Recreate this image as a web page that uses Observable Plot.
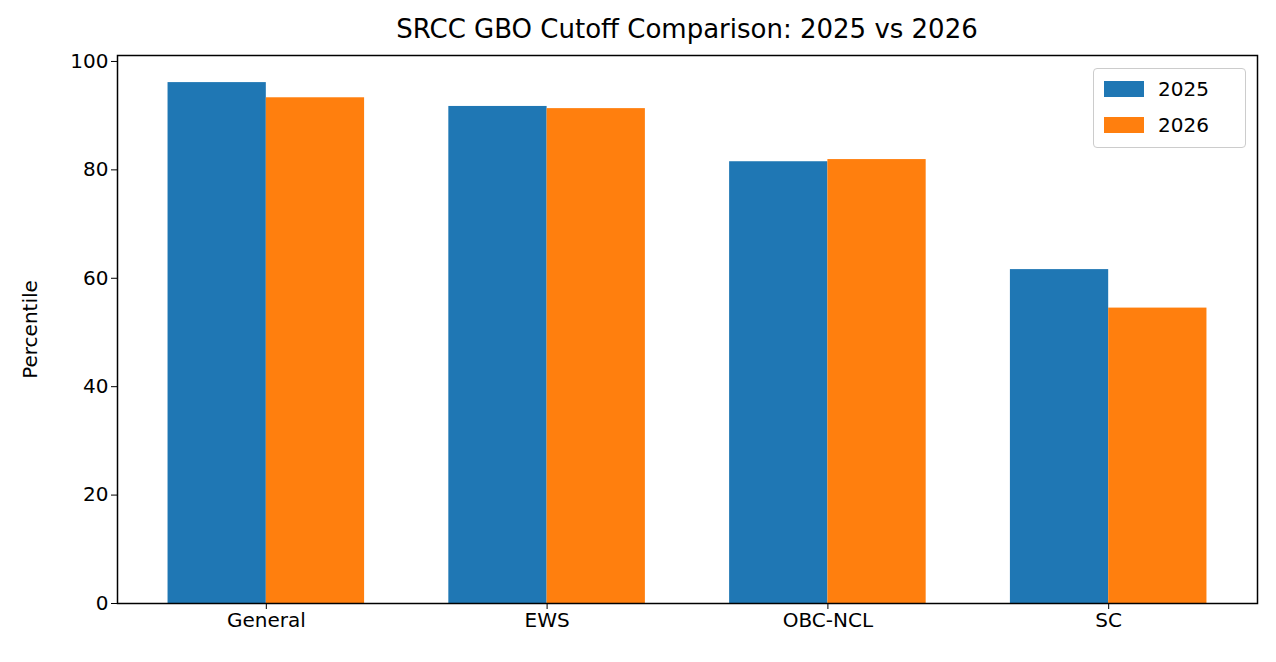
<!DOCTYPE html>
<html><head><meta charset="utf-8">
<script src="https://cdn.jsdelivr.net/npm/d3@7"></script>
<script src="https://cdn.jsdelivr.net/npm/@observablehq/plot@0.6"></script>
<style>
body{margin:0;background:#fff;font-family:"DejaVu Sans",sans-serif;}
#wrap{position:relative;width:1276px;height:662px;}
#title{position:absolute;left:117px;width:1140px;top:14px;text-align:center;font-size:26px;color:#000;}
#legend{position:absolute;left:1093px;top:68px;width:151px;height:78px;border:1.5px solid #ccc;border-radius:4px;background:#fff;font-size:20px;}
.li{position:absolute;left:10px;display:flex;align-items:center;}
.sw{width:40px;height:16px;margin-right:14px;}
</style></head><body>
<div id="wrap"><div id="chart"></div><div id="title">SRCC GBO Cutoff Comparison: 2025 vs 2026</div>
<div id="legend"><div class="li" style="top:8px"><div class="sw" style="background:#1f77b4"></div>2025</div><div class="li" style="top:44px"><div class="sw" style="background:#ff7f0e"></div>2026</div></div></div>
<script>
const categories=["General","EWS","OBC-NCL","SC"];
const v2025=[96.1,91.7,81.5,61.6];
const v2026=[93.3,91.3,81.9,54.5];
const w=0.35;
const data=[];
categories.forEach((c,i)=>{
 data.push({x1:i-w,x2:i,y:v2025[i],s:"2025"});
 data.push({x1:i,x2:i+w,y:v2026[i],s:"2026"});
});
const p=Plot.plot({
 width:1276,height:662,marginLeft:117,marginRight:19,marginTop:55,marginBottom:59,
 style:{fontSize:"20px",fontFamily:"DejaVu Sans",color:"#000",background:"#fff"},
 x:{domain:[-0.53,3.53],ticks:[0,1,2,3],tickFormat:i=>categories[i],label:null,tickSize:6},
 y:{domain:[0,101.1],ticks:[0,20,40,60,80,100],label:"Percentile",labelAnchor:"center",labelArrow:"none",labelOffset:95,tickSize:6},
 color:{domain:["2025","2026"],range:["#1f77b4","#ff7f0e"]},
 marks:[
  Plot.rectY(data,{x1:"x1",x2:"x2",y:"y",fill:"s"}),
  Plot.frame({stroke:"#000",strokeWidth:1.5})
 ]
});
document.getElementById("chart").appendChild(p);
</script></body></html>
